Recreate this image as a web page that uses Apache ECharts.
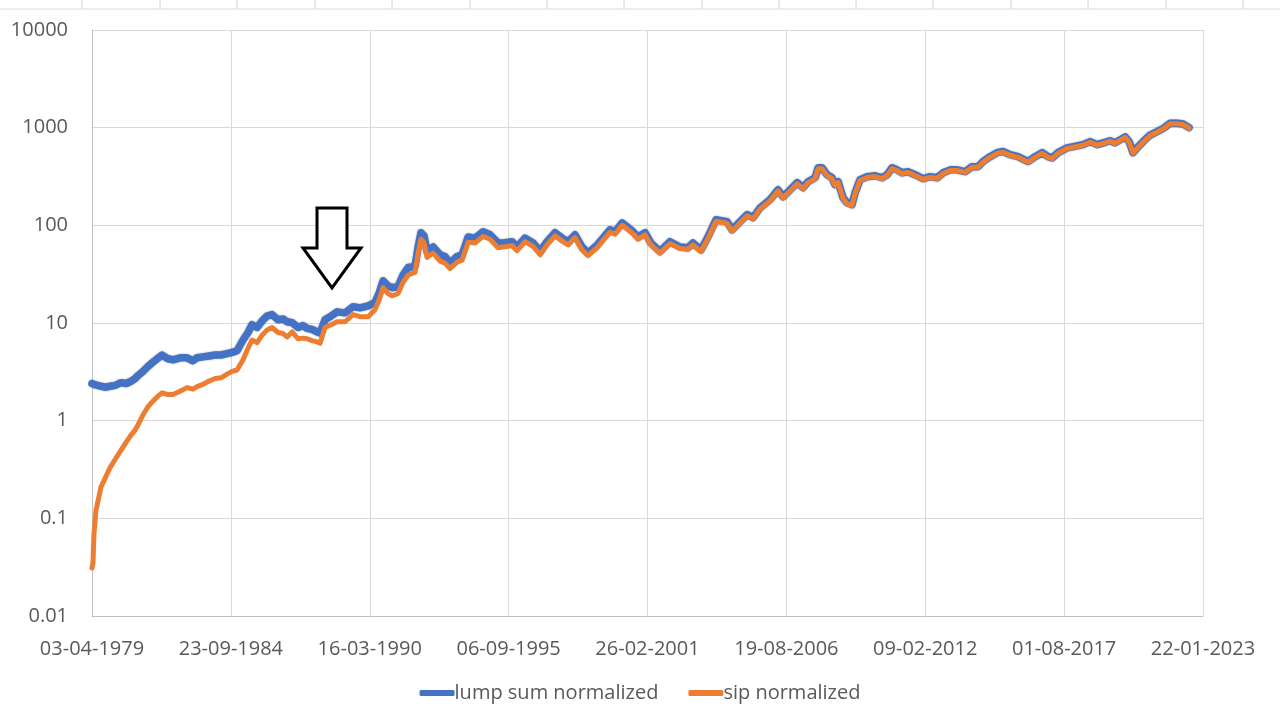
<!DOCTYPE html>
<html>
<head>
<meta charset="utf-8">
<script src="https://cdn.jsdelivr.net/npm/echarts@6/dist/echarts.min.js"></script>
<style>
html,body{margin:0;padding:0;background:#fff;}
#chart{width:1280px;height:720px;}
</style>
</head>
<body>
<div id="chart"></div>
<script>
// ---------- DATA ----------
const dates = [
'1979-04-03','1979-04-17','1979-05-02','1979-05-30','1979-08-11','1979-10-22','1979-12-19','1980-03-01','1980-05-25','1980-08-06',
'1980-10-03','1980-12-13','1981-01-26','1981-04-07','1981-06-18','1981-08-15','1981-10-26','1982-01-07','1982-04-01','1982-06-13',
'1982-09-22','1983-01-01','1983-03-27','1983-05-24','1983-08-19','1983-11-14','1984-02-09','1984-05-04','1984-07-30','1984-10-10',
'1984-12-21','1985-03-17','1985-05-28','1985-07-24','1985-10-05','1985-12-16','1986-02-27','1986-05-08','1986-08-03','1986-10-14',
'1986-12-11','1987-02-22','1987-05-17','1987-07-28','1987-09-25','1987-12-06','1988-02-17','1988-03-30','1988-06-10','1988-09-06',
'1988-12-01','1989-03-25','1989-07-18','1989-10-28','1990-02-21','1990-05-30','1990-07-27','1990-09-24','1990-12-05','1991-02-01',
'1991-04-27','1991-07-08','1991-09-19','1991-12-28','1992-02-11','1992-03-23','1992-05-06','1992-06-18','1992-09-14','1992-12-23',
'1993-03-04','1993-05-15','1993-08-24','1993-11-05','1994-01-31','1994-05-10','1994-09-03','1994-12-13','1995-04-06','1995-06-17',
'1995-10-25','1996-01-06','1996-04-30','1996-08-23','1996-12-03','1997-03-12','1997-07-05','1997-10-15','1998-01-10','1998-04-19',
'1998-07-29','1998-10-24','1999-03-04','1999-05-27','1999-09-06','1999-11-17','2000-02-27','2000-05-07','2000-08-02','2000-10-12',
'2001-01-21','2001-04-16','2001-08-24','2002-01-16','2002-06-08','2002-10-02','2002-12-13','2003-04-06','2003-07-16','2003-11-09',
'2004-04-17','2004-06-28','2004-10-21','2005-01-31','2005-04-26','2005-08-05','2005-12-27','2006-04-21','2006-07-02','2006-10-11',
'2007-01-21','2007-04-16','2007-06-27','2007-10-06','2007-11-19','2008-01-15','2008-03-27','2008-06-07','2008-07-20','2008-09-02',
'2008-11-13','2009-01-10','2009-03-21','2009-05-04','2009-07-15','2009-10-24','2010-02-18','2010-05-27','2010-08-08','2010-10-19',
'2010-12-30','2011-03-11','2011-06-06','2011-09-16','2012-01-09','2012-04-18','2012-07-28','2012-10-23','2013-02-02','2013-05-12',
'2013-09-05','2013-12-15','2014-03-10','2014-05-21','2014-08-30','2014-12-09','2015-03-04','2015-06-14','2015-10-07','2016-03-01',
'2016-06-09','2016-09-18','2016-12-13','2017-02-10','2017-05-05','2017-09-13','2018-02-05','2018-04-30','2018-08-10','2018-11-19',
'2019-02-14','2019-05-24','2019-08-04','2019-10-15','2019-12-27','2020-02-23','2020-04-20','2020-06-17','2020-09-12','2020-12-21',
'2021-03-31','2021-06-26','2021-10-05','2022-01-15','2022-04-10','2022-07-05'
];
const lumpSum = [
2.4,2.35,2.35,2.3,2.25,2.2,2.25,2.3,2.45,2.4,
2.5,2.7,2.9,3.2,3.6,3.9,4.3,4.7,4.3,4.2,
4.4,4.4,4.1,4.4,4.5,4.6,4.7,4.7,4.85,5.0,
5.2,6.7,8.0,9.6,9.0,10.5,11.8,12.2,10.8,11.0,
10.3,10.1,9.0,9.4,8.8,8.6,8.1,7.9,10.8,11.8,
13.0,12.7,14.7,14.3,15.0,16.2,20,27,24,23,
23.5,31,37,38,60,84,78,54,60,50,
48,41,48,50,76,74,86,80,66,66,
68,60,74,66,54,68,84,74,68,80,
60,52,63,74,90,86,106,97,86,76,
84,66,54,68,60,59,66,56,76,114,
109,90,109,129,120,151,183,231,196,231,
273,243,280,307,388,388,330,307,261,280,
191,170,163,215,294,315,322,307,330,388,
370,345,354,330,300,315,307,345,370,370,
354,399,399,450,505,555,570,530,505,450,
505,555,505,490,555,620,650,670,720,670,
700,735,700,750,805,720,555,620,720,840,
910,980,1110,1110,1090,1000
];
const sip = [
0.031,0.035,0.07,0.12,0.21,0.27,0.33,0.40,0.50,0.60,
0.69,0.80,0.91,1.15,1.39,1.55,1.75,1.93,1.85,1.85,
2.0,2.18,2.1,2.23,2.35,2.55,2.7,2.75,3.0,3.2,
3.3,4.2,5.5,6.7,6.3,7.5,8.5,9.0,8.0,7.8,
7.2,8.1,6.9,7.0,6.9,6.6,6.4,6.2,9.0,9.6,
10.3,10.3,12.2,11.6,11.6,13.7,17,23,20,19,
20,26,31,33,52,72,66,47,52,43,
41,36,42,44,67,66,77,72,59,60,
62,55,68,61,50,63,78,69,63,75,
56,49,59,70,85,81,100,92,82,72,
80,63,52,65,58,57,63,54,73,110,
105,87,106,125,117,147,178,225,191,225,
267,238,274,300,380,380,323,300,256,274,
187,166,160,211,288,309,316,301,324,381,
363,339,348,324,295,310,302,339,364,364,
348,393,393,443,497,546,561,522,497,443,
497,546,497,483,547,611,641,661,710,661,
690,725,690,740,794,710,548,612,710,829,
898,967,1095,1095,1076,987
];
const seriesNames = ['lump sum normalized','sip normalized'];
const axisStartDate = '1979-04-03';
const tickStepDays = 2000;
const tickCount = 8;
const yMin = 0.01, yMax = 10000;

// ---------- helpers ----------
const base = Date.parse(axisStartDate + 'T00:00:00Z');
const dayOf = s => (Date.parse(s + 'T00:00:00Z') - base) / 864e5;
const pad = n => (n < 10 ? '0' : '') + n;
const fmtDate = v => {
  const d = new Date(base + Math.round(v) * 864e5);
  return pad(d.getUTCDate()) + '-' + pad(d.getUTCMonth() + 1) + '-' + d.getUTCFullYear();
};
const lumpData = dates.map((d, i) => [dayOf(d), lumpSum[i]]);
const sipData = dates.map((d, i) => [dayOf(d), sip[i]]);

const FONT = 'Open Sans';
const TXT = '#595959';
const chart = echarts.init(document.getElementById('chart'), null, {renderer: 'canvas'});

// faint spreadsheet cell borders above the chart
const cellLines = [];
cellLines.push({type:'line', shape:{x1:0,y1:9,x2:1280,y2:9}, style:{stroke:'#dcdcdc', lineWidth:1}, silent:true});
[82,160,237,315,392,470,547,624,702,779,856,933,1011,1088,1166,1243].forEach(x => {
  cellLines.push({type:'line', shape:{x1:x,y1:0,x2:x,y2:9}, style:{stroke:'#d4d4d4', lineWidth:1}, silent:true});
});

chart.setOption({
  animation: false,
  backgroundColor: '#ffffff',
  textStyle: {fontFamily: FONT},
  grid: {left: 92, right: 77, top: 30, bottom: 104, containLabel: false},
  legend: {
    data: seriesNames,
    left: 'center',
    top: 678,
    icon: 'roundRect',
    itemWidth: 35,
    itemHeight: 6,
    itemGap: 30,
    textStyle: {fontFamily: FONT, fontSize: 20, color: TXT, padding: [0, 0, 0, -5]}
  },
  xAxis: {
    type: 'value',
    min: 0,
    max: tickStepDays * tickCount,
    interval: tickStepDays,
    axisLine: {show: true, lineStyle: {color: '#bfbfbf', width: 1}},
    axisTick: {show: false},
    splitLine: {show: true, lineStyle: {color: '#d9d9d9', width: 1}},
    axisLabel: {
      formatter: fmtDate,
      fontFamily: FONT, fontSize: 20, color: TXT, margin: 23,
      showMinLabel: true, showMaxLabel: true
    }
  },
  yAxis: {
    type: 'log',
    logBase: 10,
    min: yMin,
    max: yMax,
    axisLine: {show: true, lineStyle: {color: '#bfbfbf', width: 1}},
    axisTick: {show: false},
    splitLine: {show: true, lineStyle: {color: '#d9d9d9', width: 1}},
    axisLabel: {
      formatter: v => (v >= 1 ? String(Math.round(v)) : String(Number(v.toPrecision(1)))),
      fontFamily: FONT, fontSize: 20, color: TXT, margin: 24
    }
  },
  series: [
    {
      name: seriesNames[0], type: 'line', data: lumpData,
      showSymbol: false, symbol: 'none',
      lineStyle: {color: '#4472C4', width: 7.5, join: 'round', cap: 'round',
        shadowColor: 'rgba(0,0,0,0.35)', shadowBlur: 2},
      itemStyle: {color: '#4472C4'}, z: 2
    },
    {
      name: seriesNames[1], type: 'line', data: sipData,
      showSymbol: false, symbol: 'none',
      lineStyle: {color: '#ED7D31', width: 5, join: 'round', cap: 'round'},
      itemStyle: {color: '#ED7D31'}, z: 3
    }
  ],
  graphic: cellLines.concat([
    {
      type: 'polygon',
      shape: {points: [[317,208],[347,208],[347,248],[361,248],[332,288],[303,248],[317,248]]},
      style: {fill: '#ffffff', stroke: '#000000', lineWidth: 3, lineJoin: 'miter'},
      z: 100
    }
  ])
});
</script>
</body>
</html>
